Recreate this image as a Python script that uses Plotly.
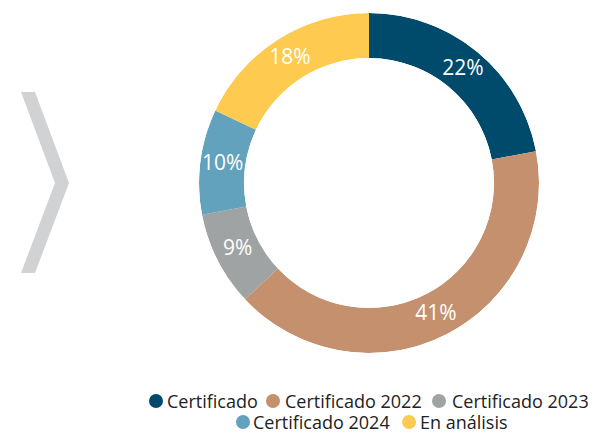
import plotly.graph_objects as go

categories = ["Certificado", "Certificado 2022", "Certificado 2023", "Certificado 2024", "En análisis"]
values = [22, 41, 9, 10, 18]
colors = ["#004b6c", "#c4906e", "#a0a3a4", "#63a2bd", "#fecb50"]

W, H = 594, 433
HOLE = 0.735
dom = dict(x=[199 / W, 539 / W], y=[(H - 353) / H, (H - 13) / H])

# donut drawn as polar bars: angular width and centre of each slice follow the values
total = sum(values)
mid_theta, widths, acc = [], [], 0
for v in values:
    mid_theta.append((acc + v / 2) / total * 360)
    widths.append(v / total * 360)
    acc += v
pct_text = [f"{round(v / total * 100)}%" for v in values]

fig = go.Figure()
fig.add_trace(go.Barpolar(
    r=[1] * len(values), theta=mid_theta, width=widths, base=0,
    marker=dict(color=colors, line=dict(width=0)),
    text=categories, hovertemplate="%{text}<extra></extra>", showlegend=False,
))
fig.add_trace(go.Scatterpolar(
    r=[0.5] * len(values), theta=mid_theta, mode="text", text=pct_text,
    textfont=dict(family="Open Sans", size=21, color="white"),
    showlegend=False, hoverinfo="skip",
))

# decorative chevron
fig.add_shape(
    type="path", xref="paper", yref="paper",
    path="M {a},{b} L {c},{b} L {d},{e} L {c},{f} L {a},{f} L {g},{e} Z".format(
        a=21 / W, c=35 / W, d=69 / W, g=55 / W,
        b=1 - 92 / H, e=1 - 183 / H, f=1 - 273 / H),
    fillcolor="#d1d2d3", line=dict(width=0), layer="below",
)

# legend drawn as dots + labels (two centred rows as in the reference)
legend_layout = [  # (dot centre x, text start x, row centre y) in pixels
    (156, 166, 401), (273, 284, 401), (439, 451, 401),
    (243, 252, 422), (409, 419, 422),
]
rr = 7
for name, col, (dx, tx, ry) in zip(categories, colors, legend_layout):
    fig.add_shape(type="circle", xref="paper", yref="paper",
                  x0=(dx - rr) / W, x1=(dx + rr) / W, y0=1 - (ry + rr) / H, y1=1 - (ry - rr) / H,
                  fillcolor=col, line=dict(width=0))
    fig.add_annotation(text=name, xref="paper", yref="paper", x=tx / W, y=1 - ry / H,
                       xanchor="left", yanchor="middle", showarrow=False, borderpad=0,
                       font=dict(family="Open Sans", size=18, color="#222222"))

fig.update_layout(
    width=W, height=H,
    margin=dict(l=0, r=0, t=0, b=0),
    paper_bgcolor="white", plot_bgcolor="white",
    showlegend=False,
    polar=dict(
        domain=dom, bgcolor="rgba(0,0,0,0)", hole=HOLE,
        radialaxis=dict(range=[0, 1], visible=False, showgrid=False, showline=False),
        angularaxis=dict(rotation=90, direction="clockwise", visible=False,
                         showgrid=False, showline=False),
    ),
)

fig.write_html("out.html", config={"displayModeBar": False},
               post_script="document.body.style.margin='0';")
